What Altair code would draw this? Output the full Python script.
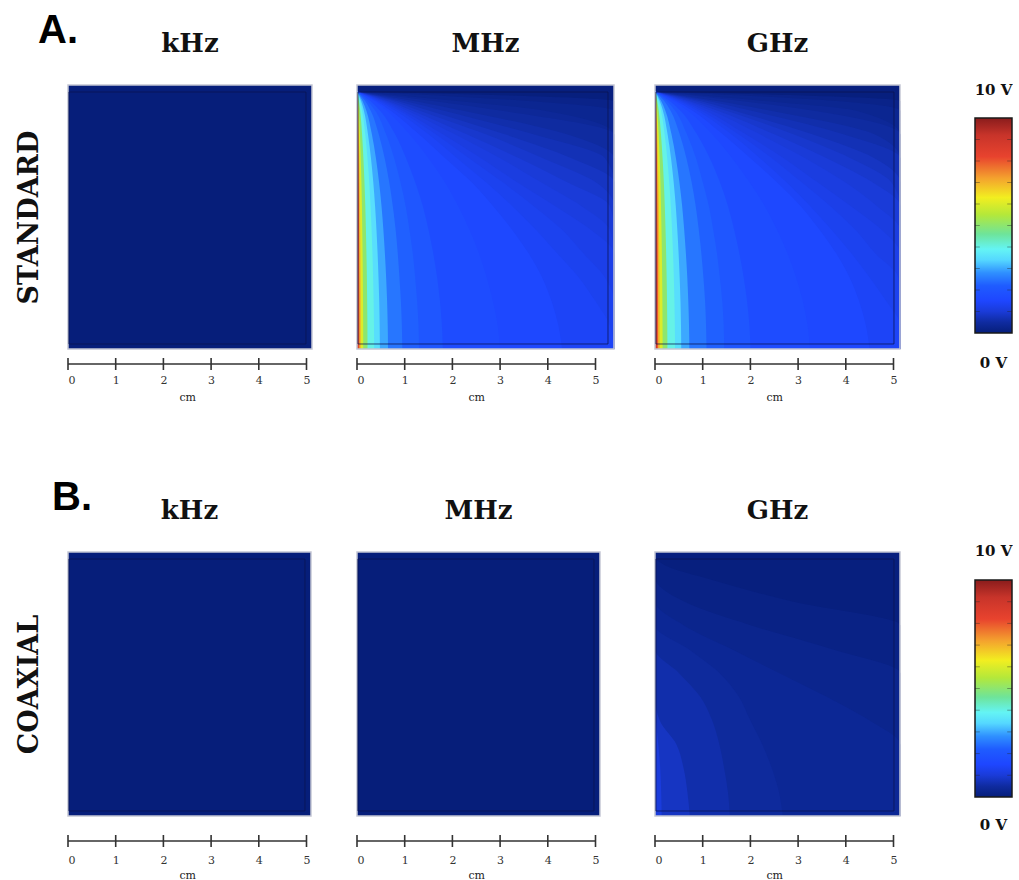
import altair as alt
import pandas as pd

# ---------------------------------------------------------------- geometry
PX_PER_CM = 47.7          # pixels per centimetre on every panel
PANEL_PX_H = 264          # panel height in pixels
FIELD_H = PANEL_PX_H / PX_PER_CM

SERIF = "DejaVu Serif"
SANS = "Liberation Sans"

# ---------------------------------------------------------------- colour map (0 .. 10 V)
COLOR_STOPS_V = [0, 0.5, 1.0, 1.5, 2.2, 2.8, 3.4, 3.9, 4.6, 5.5, 6.3, 7.2, 8.2, 9.2, 10]
COLOR_STOPS = ["#061e7a", "#0f2ba0", "#1a3bd8", "#1e46ff", "#1f5cff", "#2f90ff", "#55d8ff",
               "#64f4f4", "#6ee49a", "#b4e83a", "#f2ee20", "#f4a22e", "#e8432e", "#c8342a",
               "#8a1c1c"]
V_MAX = 10

FREQS = ["kHz", "MHz", "GHz"]
SCALE_TICKS = [0, 1, 2, 3, 4, 5]
CBAR_TICKS = [1, 2, 3, 4, 5, 6, 7, 8, 9]
CBAR_LABEL_TEXT = ["0 V", "10 V"]
CBAR_LABEL_V = [0, 10]

UNIFORM_V = 0.0      # potential over the low-frequency panels
TOP_STRIP_V = 0.05   # potential along the grounded top edge

# ---------------------------------------------------------------- iso-potential contours
# For each level (V): horizontal extent (cm from the left electrode) of the region
# at or above that level, at each height of HEIGHTS_CM.
HEIGHTS_CM = [0.0, 0.5, 1.0, 1.5, 2.0, 2.5, 3.0, 3.5, 4.0, 4.5, 5.0, 5.2, 5.4]

STD_MHZ = {
    0.2: [5.39, 5.39, 5.39, 5.39, 5.39, 5.39, 5.39, 5.39, 5.39, 5.39, 5.39, 5.39, 0],
    0.3: [5.39, 5.39, 5.39, 5.39, 5.39, 5.39, 5.39, 5.39, 5.39, 5.39, 5.39, 3.6, 0],
    0.4: [5.39, 5.39, 5.39, 5.39, 5.39, 5.39, 5.39, 5.39, 5.39, 5.39, 3.9, 2.1, 0],
    0.5: [5.39, 5.39, 5.39, 5.39, 5.39, 5.39, 5.39, 5.39, 5.39, 5.39, 3.0, 1.6, 0],
    0.6: [5.39, 5.39, 5.39, 5.39, 5.39, 5.39, 5.39, 5.39, 5.39, 4.4, 2.2, 1.2, 0],
    0.7: [5.39, 5.39, 5.39, 5.39, 5.39, 5.39, 5.39, 5.39, 5.2, 3.7, 1.8, 1.0, 0],
    0.8: [5.39, 5.39, 5.39, 5.39, 5.39, 5.39, 5.39, 5.39, 4.5, 3.1, 1.5, 0.85, 0],
    0.9: [5.39, 5.39, 5.39, 5.39, 5.39, 5.39, 5.39, 5.0, 3.9, 2.7, 1.3, 0.75, 0],
    1.0: [5.39, 5.39, 5.39, 5.39, 5.39, 5.39, 5.3, 4.4, 3.4, 2.3, 1.15, 0.65, 0],
    1.1: [5.39, 5.39, 5.39, 5.39, 5.39, 5.3, 4.7, 3.85, 3.0, 2.05, 1.05, 0.6, 0],
    1.2: [5.39, 5.39, 5.39, 5.39, 5.39, 4.9, 4.15, 3.35, 2.6, 1.8, 0.95, 0.55, 0],
    1.3: [5.39, 5.39, 5.39, 5.2, 4.75, 4.3, 3.7, 3.05, 2.35, 1.65, 0.88, 0.5, 0],
    1.4: [5.39, 5.3, 5.0, 4.65, 4.2, 3.75, 3.25, 2.7, 2.1, 1.5, 0.8, 0.45, 0],
    1.55: [4.3, 4.22, 4.08, 3.88, 3.6, 3.25, 2.85, 2.4, 1.85, 1.3, 0.7, 0.4, 0],
    1.7: [3.0, 2.95, 2.85, 2.72, 2.56, 2.36, 2.12, 1.84, 1.5, 1.1, 0.62, 0.36, 0],
    2.0: [1.8, 1.78, 1.74, 1.68, 1.6, 1.5, 1.38, 1.22, 1.03, 0.8, 0.48, 0.28, 0],
    2.25: [1.3, 1.29, 1.26, 1.22, 1.17, 1.1, 1.02, 0.91, 0.78, 0.61, 0.38, 0.22, 0],
    2.5: [0.95, 0.94, 0.92, 0.89, 0.855, 0.81, 0.75, 0.675, 0.58, 0.456, 0.285, 0.171, 0],
    3.0: [0.65, 0.644, 0.631, 0.611, 0.585, 0.553, 0.514, 0.462, 0.397, 0.312, 0.195, 0.117, 0],
    3.5: [0.48, 0.475, 0.466, 0.451, 0.432, 0.408, 0.379, 0.341, 0.293, 0.23, 0.144, 0.086, 0],
    4.0: [0.36, 0.356, 0.349, 0.338, 0.324, 0.306, 0.284, 0.256, 0.22, 0.173, 0.108, 0.065, 0],
    5.0: [0.22, 0.218, 0.213, 0.207, 0.198, 0.187, 0.174, 0.156, 0.134, 0.106, 0.066, 0.04, 0],
    6.0: [0.13, 0.129, 0.126, 0.122, 0.117, 0.11, 0.103, 0.092, 0.079, 0.062, 0.039, 0.023, 0],
    7.0: [0.08, 0.079, 0.078, 0.075, 0.072, 0.068, 0.063, 0.057, 0.049, 0.038, 0.024, 0.014, 0],
    8.0: [0.05, 0.05, 0.049, 0.047, 0.045, 0.043, 0.04, 0.036, 0.031, 0.024, 0.015, 0.009, 0],
    9.0: [0.03, 0.03, 0.029, 0.028, 0.027, 0.026, 0.024, 0.021, 0.018, 0.014, 0.009, 0.005, 0],
}

STD_GHZ = {
    0.2: [5.14, 5.14, 5.14, 5.14, 5.14, 5.14, 5.14, 5.14, 5.14, 5.14, 5.14, 5.14, 0],
    0.3: [5.14, 5.14, 5.14, 5.14, 5.14, 5.14, 5.14, 5.14, 5.14, 5.14, 5.14, 3.8, 0],
    0.4: [5.14, 5.14, 5.14, 5.14, 5.14, 5.14, 5.14, 5.14, 5.14, 5.14, 4.2, 2.3, 0],
    0.5: [5.14, 5.14, 5.14, 5.14, 5.14, 5.14, 5.14, 5.14, 5.14, 5.14, 3.3, 1.8, 0],
    0.6: [5.14, 5.14, 5.14, 5.14, 5.14, 5.14, 5.14, 5.14, 5.14, 4.6, 2.4, 1.3, 0],
    0.7: [5.14, 5.14, 5.14, 5.14, 5.14, 5.14, 5.14, 5.14, 5.14, 3.95, 2.0, 1.12, 0],
    0.8: [5.14, 5.14, 5.14, 5.14, 5.14, 5.14, 5.14, 5.14, 4.6, 3.3, 1.65, 0.95, 0],
    0.9: [5.14, 5.14, 5.14, 5.14, 5.14, 5.14, 5.14, 4.95, 4.1, 2.9, 1.48, 0.83, 0],
    1.0: [5.14, 5.14, 5.14, 5.14, 5.14, 5.14, 5.14, 4.55, 3.6, 2.5, 1.3, 0.72, 0],
    1.1: [5.14, 5.14, 5.14, 5.14, 5.14, 5.14, 4.65, 3.98, 3.15, 2.2, 1.17, 0.66, 0],
    1.2: [5.14, 5.14, 5.14, 5.14, 5.14, 4.75, 4.1, 3.4, 2.7, 1.9, 1.05, 0.6, 0],
    1.3: [5.14, 5.14, 5.14, 5.1, 4.62, 4.2, 3.67, 3.07, 2.45, 1.75, 0.96, 0.55, 0],
    1.4: [5.14, 5.14, 4.85, 4.5, 4.12, 3.7, 3.25, 2.75, 2.2, 1.6, 0.88, 0.5, 0],
    1.55: [4.5, 4.42, 4.28, 4.08, 3.8, 3.45, 3.05, 2.55, 2.0, 1.42, 0.78, 0.44, 0],
    1.7: [3.25, 3.2, 3.1, 2.96, 2.78, 2.56, 2.3, 1.98, 1.62, 1.2, 0.68, 0.39, 0],
    2.0: [2.0, 1.98, 1.93, 1.86, 1.77, 1.66, 1.53, 1.36, 1.15, 0.88, 0.53, 0.31, 0],
    2.25: [1.45, 1.44, 1.41, 1.36, 1.3, 1.22, 1.13, 1.0, 0.86, 0.67, 0.42, 0.25, 0],
    2.5: [1.08, 1.07, 1.05, 1.015, 0.972, 0.918, 0.853, 0.767, 0.659, 0.518, 0.324, 0.194, 0],
    3.0: [0.72, 0.713, 0.698, 0.677, 0.648, 0.612, 0.569, 0.511, 0.439, 0.346, 0.216, 0.13, 0],
    3.5: [0.55, 0.545, 0.534, 0.517, 0.495, 0.468, 0.435, 0.391, 0.336, 0.264, 0.165, 0.099, 0],
    4.0: [0.42, 0.416, 0.407, 0.395, 0.378, 0.357, 0.332, 0.298, 0.256, 0.202, 0.126, 0.076, 0],
    5.0: [0.26, 0.257, 0.252, 0.244, 0.234, 0.221, 0.205, 0.185, 0.159, 0.125, 0.078, 0.047, 0],
    6.0: [0.16, 0.158, 0.155, 0.15, 0.144, 0.136, 0.126, 0.114, 0.098, 0.077, 0.048, 0.029, 0],
    7.0: [0.1, 0.099, 0.097, 0.094, 0.09, 0.085, 0.079, 0.071, 0.061, 0.048, 0.03, 0.018, 0],
    8.0: [0.065, 0.064, 0.063, 0.061, 0.059, 0.055, 0.051, 0.046, 0.04, 0.031, 0.02, 0.012, 0],
    9.0: [0.04, 0.04, 0.039, 0.038, 0.036, 0.034, 0.032, 0.028, 0.024, 0.019, 0.012, 0.007, 0],
}

COAX_GHZ = {
    0.15: [5.14, 5.14, 5.14, 5.14, 5.14, 5.14, 5.14, 5.14, 5.14, 2.86, 1.02, 0.34, 0],
    0.25: [5.14, 5.14, 5.14, 5.14, 5.14, 5.14, 5.14, 3.7, 2.0, 0.6, 0, 0, 0],
    0.35: [5.14, 5.14, 5.14, 5.14, 4.5, 3.6, 2.6, 1.6, 0.6, 0, 0, 0, 0],
    0.45: [2.68, 2.6, 2.45, 2.25, 2.0, 1.76, 1.35, 0.7, 0, 0, 0, 0, 0],
    0.6: [1.57, 1.53, 1.45, 1.35, 1.2, 0.95, 0.5, 0, 0, 0, 0, 0, 0],
    0.8: [0.73, 0.68, 0.6, 0.45, 0.1, 0, 0, 0, 0, 0, 0, 0, 0],
    1.05: [0.14, 0.13, 0.11, 0.07, 0.02, 0, 0, 0, 0, 0, 0, 0, 0],
}

# ---------------------------------------------------------------- per-row layout
ROWS = [
    dict(tag="A.", label="STANDARD", tag_dx=-30,
         field_w=[5.115, 5.388, 5.136], cell_px=[289, 298, 320],
         contours=[None, STD_MHZ, STD_GHZ],
         bar_gap=15, label_pad=34, cm_y=51,
         cbar=(33, 248), cbar_dy=(-23, 35)),
    dict(tag="B.", label="COAXIAL", tag_dx=-16,
         field_w=[5.094, 5.094, 5.136], cell_px=[289, 298, 320],
         contours=[None, None, COAX_GHZ],
         bar_gap=25, label_pad=47, cm_y=62,
         cbar=(28, 245), cbar_dy=(-24, 33)),
]

CSCALE = alt.Scale(domain=COLOR_STOPS_V, range=COLOR_STOPS, interpolate="rgb")


def field_panel(freq, row, i):
    field_w = row["field_w"][i]
    cell_px = row["cell_px"][i]
    contours = row["contours"][i]
    xs = alt.Scale(domain=[0, cell_px / PX_PER_CM], nice=False, zero=False)
    ys = alt.Scale(domain=[0, FIELD_H], nice=False, zero=False)
    xaxis = alt.Axis(values=SCALE_TICKS, title="cm", domain=False, ticks=False, tickSize=0,
                     grid=False, labelPadding=row["label_pad"], labelBaseline="alphabetic",
                     labelFont=SERIF, labelFontSize=11, labelColor="#333",
                     titleFont=SERIF, titleFontSize=11, titleFontWeight="normal",
                     titleColor="#222", titleX=2.5 * PX_PER_CM, titleY=row["cm_y"],
                     titleBaseline="alphabetic", titleAlign="center")
    if i == 0:
        yaxis = alt.Axis(title=row["label"], domain=False, ticks=False, labels=False,
                         grid=False, titleFont=SERIF, titleFontSize=27,
                         titleFontWeight="bold", titleColor="#111", titlePadding=31,
                         titleBaseline="alphabetic")
    else:
        yaxis = None

    color = alt.Color("v:Q", scale=CSCALE, legend=None)
    base_v = UNIFORM_V if contours is None else TOP_STRIP_V
    base = pd.DataFrame({"x0": [0.0], "x1": [field_w], "y0": [0.0], "y1": [FIELD_H],
                         "v": [base_v]})
    layers = [
        alt.Chart(base).mark_rect().encode(
            x=alt.X("x0:Q", scale=xs, axis=xaxis), x2="x1:Q",
            y=alt.Y("y0:Q", scale=ys, axis=yaxis), y2="y1:Q", color=color)
    ]
    if contours is not None:
        for level in sorted(contours):
            df = pd.DataFrame({"h": HEIGHTS_CM, "ext": contours[level], "v": level})
            layers.append(
                alt.Chart(df).mark_area(orient="horizontal", interpolate="monotone").encode(
                    y=alt.Y("h:Q", scale=ys, axis=yaxis),
                    x=alt.X("ext:Q", scale=xs, axis=xaxis, stack=None),
                    color=color))

    # outer outline and inner domain frame
    outer = pd.DataFrame({"x0": [0.0], "x1": [field_w], "y0": [0.0], "y1": [FIELD_H]})
    inner = pd.DataFrame({"x0": [0.02], "x1": [field_w - 0.126],
                          "y0": [0.105], "y1": [FIELD_H - 0.147]})
    layers.append(alt.Chart(outer).mark_rect(fillOpacity=0, stroke="#c4c6d4", strokeWidth=1.5)
                  .encode(x=alt.X("x0:Q", scale=xs, axis=xaxis), x2="x1:Q",
                          y=alt.Y("y0:Q", scale=ys, axis=yaxis), y2="y1:Q"))
    layers.append(alt.Chart(inner).mark_rect(fillOpacity=0, stroke="#0b1450",
                                             strokeOpacity=0.75, strokeWidth=1)
                  .encode(x=alt.X("x0:Q", scale=xs, axis=xaxis), x2="x1:Q",
                          y=alt.Y("y0:Q", scale=ys, axis=yaxis), y2="y1:Q"))

    # centimetre scale bar under the panel
    bar_y = PANEL_PX_H + row["bar_gap"]
    span = pd.DataFrame({"t0": [SCALE_TICKS[0]], "t1": [SCALE_TICKS[-1]]})
    ticks = pd.DataFrame({"t": SCALE_TICKS})
    layers.append(alt.Chart(span).mark_rule(color="#333", strokeWidth=1.5).encode(
        x=alt.X("t0:Q", scale=xs, axis=xaxis), x2="t1:Q", y=alt.value(bar_y)))
    layers.append(alt.Chart(ticks).mark_rule(color="#333", strokeWidth=1.6).encode(
        x=alt.X("t:Q", scale=xs, axis=xaxis), y=alt.value(bar_y - 6), y2=alt.value(bar_y + 6)))

    # frequency heading, centred over the field
    head = pd.DataFrame({"label": [freq], "xc": [field_w / 2]})
    layers.append(alt.Chart(head).mark_text(font=SERIF, fontSize=26, fontWeight="bold",
                                            color="#111", baseline="alphabetic",
                                            align="center")
                  .encode(x=alt.X("xc:Q", scale=xs, axis=xaxis), y=alt.value(-33),
                          text="label:N"))
    if i == 0:
        tag = pd.DataFrame({"label": [row["tag"]]})
        layers.append(alt.Chart(tag).mark_text(font=SANS, fontSize=40, fontWeight="bold",
                                               color="#000", baseline="alphabetic",
                                               align="left")
                      .encode(x=alt.value(row["tag_dx"]), y=alt.value(-42),
                              text="label:N"))
    return alt.layer(*layers).properties(width=cell_px, height=PANEL_PX_H)


def colorbar(row):
    top_px, bot_px = row["cbar"]
    dy_top, dy_bot = row["cbar_dy"]
    ys = alt.Scale(domain=[0, V_MAX], range=[bot_px, top_px], nice=False, zero=False)
    xs = alt.Scale(domain=[0, 1], nice=False, zero=False)

    # the colour map itself, painted as a vertical gradient (0 V at the bottom)
    jet = alt.Gradient(
        gradient="linear", x1=0, x2=0, y1=1, y2=0,
        stops=[alt.GradientStop(offset=v / V_MAX, color=c)
               for v, c in zip(COLOR_STOPS_V, COLOR_STOPS)])
    frame = pd.DataFrame({"y0": [0], "y1": [V_MAX]})
    strip = alt.Chart(frame).mark_rect(fill=jet).encode(
        y=alt.Y("y0:Q", scale=ys, axis=None), y2="y1:Q",
        x=alt.XDatum(0, scale=xs, axis=None), x2=alt.X2Datum(1))
    tick_df = pd.DataFrame({"v": CBAR_TICKS})
    left_ticks = alt.Chart(tick_df).mark_rule(color="#222", strokeOpacity=0.4).encode(
        y=alt.Y("v:Q", scale=ys, axis=None),
        x=alt.XDatum(0, scale=xs, axis=None), x2=alt.X2Datum(0.13))
    right_ticks = alt.Chart(tick_df).mark_rule(color="#222", strokeOpacity=0.4).encode(
        y=alt.Y("v:Q", scale=ys, axis=None),
        x=alt.XDatum(0.87, scale=xs, axis=None), x2=alt.X2Datum(1))
    border = alt.Chart(frame).mark_rect(fillOpacity=0, stroke="#1a1a1a", strokeWidth=1.5).encode(
        y=alt.Y("y0:Q", scale=ys, axis=None), y2="y1:Q",
        x=alt.XDatum(0, scale=xs, axis=None), x2=alt.X2Datum(1))
    lab = pd.DataFrame({"label": CBAR_LABEL_TEXT, "v": CBAR_LABEL_V})
    text_style = dict(font=SERIF, fontSize=15, fontWeight="bold", color="#111",
                      baseline="alphabetic", align="center")
    top_lab = (alt.Chart(lab).transform_filter(alt.datum.v == CBAR_LABEL_V[1])
               .mark_text(dy=dy_top, **text_style)
               .encode(y=alt.Y("v:Q", scale=ys, axis=None),
                       x=alt.XDatum(0.5, scale=xs, axis=None), text="label:N"))
    bot_lab = (alt.Chart(lab).transform_filter(alt.datum.v == CBAR_LABEL_V[0])
               .mark_text(dy=dy_bot, **text_style)
               .encode(y=alt.Y("v:Q", scale=ys, axis=None),
                       x=alt.XDatum(0.5, scale=xs, axis=None), text="label:N"))
    return alt.layer(strip, left_ticks, right_ticks, border, top_lab, bot_lab).properties(
        width=37, height=PANEL_PX_H)


cells = []
for row in ROWS:
    cells += [field_panel(f, row, i) for i, f in enumerate(FREQS)] + [colorbar(row)]

chart = (alt.concat(*cells, columns=4, spacing={"row": 203, "column": 0}, bounds="flush")
         .properties(padding={"left": 15, "top": 11, "right": 0, "bottom": 0},
                     background="white")
         .configure_view(stroke=None))

chart.save("out.html", embed_options={"renderer": "svg", "actions": False})
